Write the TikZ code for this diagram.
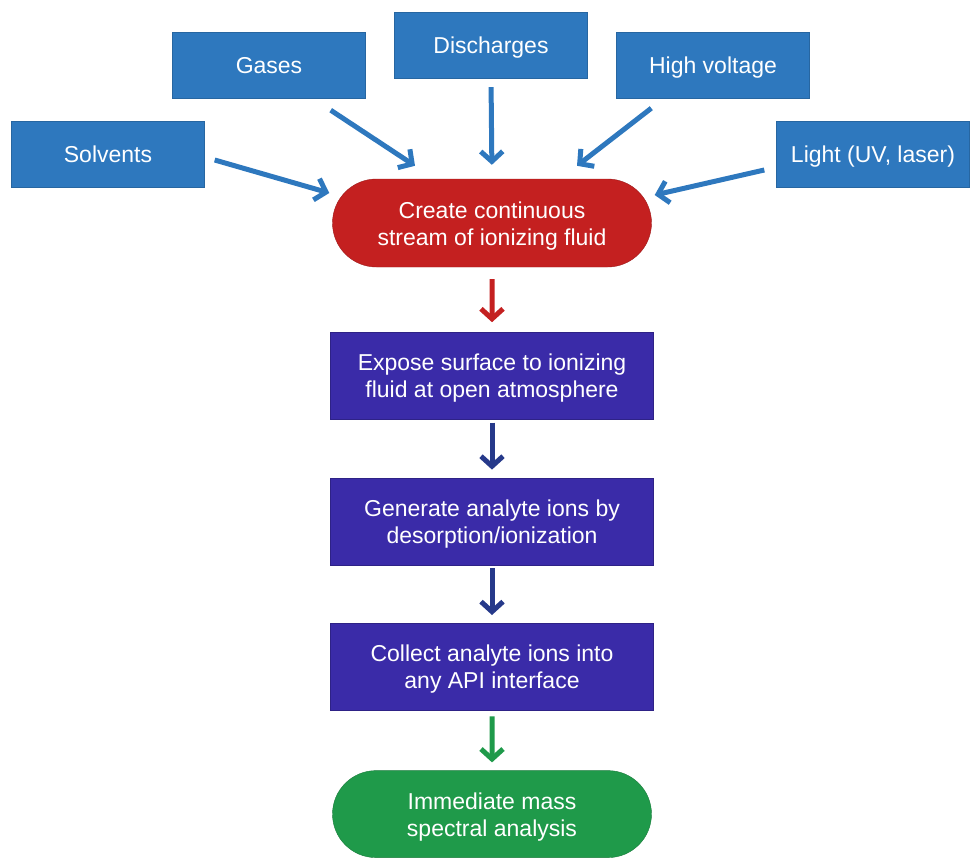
\documentclass[tikz,border=0pt]{standalone}
\usepackage{fontspec}
\setmainfont{Liberation Sans}
\usetikzlibrary{arrows.meta,positioning,shapes.misc}
\definecolor{srcblue}{HTML}{2E78BE}
\definecolor{fluidred}{HTML}{C42020}
\definecolor{stepblue}{HTML}{3A2BA8}
\definecolor{stepnavy}{HTML}{26398A}
\definecolor{massgreen}{HTML}{1F9A4A}

\begin{document}
\begin{tikzpicture}[
    x=1pt,y=-1pt,
    node distance=58pt,
    every node/.style={text=white,inner sep=0pt,align=center,font=\fontsize{23}{27}\selectfont},
    srcbox/.style={fill=srcblue,draw=srcblue!85!black,minimum width=193pt,minimum height=66pt,text height=17pt,text depth=0pt},
    twoline/.style={text height=44pt,text depth=0pt},
    stepbox/.style={twoline,fill=stepblue,draw=stepblue!80!black,minimum width=323pt,minimum height=87pt},
    pill/.style={twoline,rounded rectangle,minimum width=319pt,minimum height=88pt},
    tip/.style={-{Straight Barb[length=10pt,width=22pt]},line width=5pt},
    feed/.style={tip,draw=srcblue}
]
\useasboundingbox (0,0) rectangle (972,862);
% sources
\node[srcbox] (solv) at (108,154) {Solvents};
\node[srcbox] (gas) at (269,65) {Gases};
\node[srcbox] (disc) at (491,45) {Discharges};
\node[srcbox] (hv) at (713,65) {High voltage};
\node[srcbox] (light) at (873,154) {Light (UV, laser)};
% main chain
\node[pill,fill=fluidred,draw=fluidred!80!black] (fluid) at (492,223) {Create continuous\\stream of ionizing fluid};
\node[stepbox,below=65pt of fluid] (expose) {Expose surface to ionizing\\fluid at open atmosphere};
\node[stepbox,below=of expose] (gen) {Generate analyte ions by\\desorption/ionization};
\node[stepbox,below=of gen] (coll) {Collect analyte ions into\\any API interface};
\node[pill,fill=massgreen,draw=massgreen!80!black,minimum height=87pt,below=60pt of coll] (mass) {Immediate mass\\spectral analysis};
\draw[feed] ([shift={(10,6)}]solv.east) -- ([shift={(-3,-30)}]fluid.west);
\draw[feed] ([shift={(-35,12)}]gas.south east) -- ([shift={(-77,-13)}]fluid.north);
\draw[feed,shorten <=9pt,shorten >=14pt] (disc.south) -- (fluid.north);
\draw[feed] ([shift={(35,10)}]hv.south west) -- ([shift={(85,-13)}]fluid.north);
\draw[feed] ([shift={(-12,16)}]light.west) -- ([shift={(3,-28)}]fluid.east);
\draw[tip,draw=fluidred,shorten <=12pt,shorten >=10pt] (fluid) -- (expose);
\draw[tip,draw=stepnavy,shorten <=3pt,shorten >=8pt] (expose) -- (gen);
\draw[tip,draw=stepnavy,shorten <=3pt,shorten >=8pt] (gen) -- (coll);
\draw[tip,draw=massgreen,shorten <=6pt,shorten >=8pt] (coll) -- (mass);
\end{tikzpicture}
\end{document}
